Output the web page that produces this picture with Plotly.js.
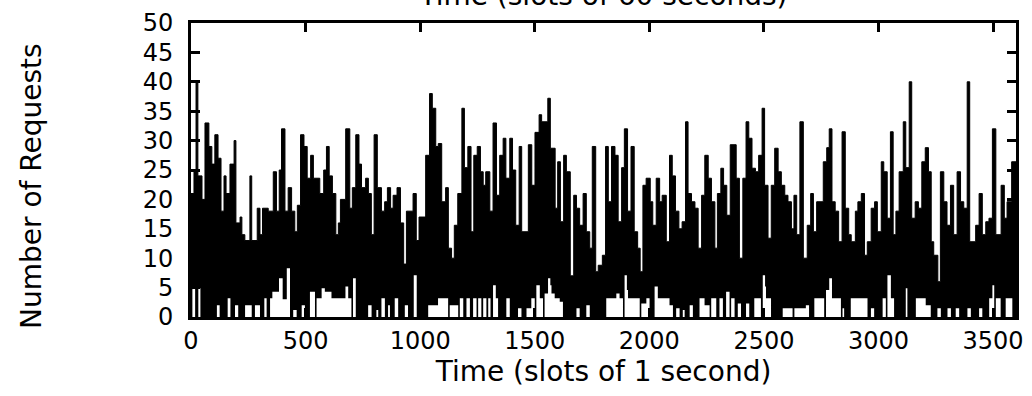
<!DOCTYPE html>
<html>
<head>
<meta charset="utf-8">
<script src="https://cdn.plot.ly/plotly-3.0.1.min.js"></script>
<style>
  html, body { margin: 0; padding: 0; background: #ffffff; }
  #chart { width: 1032px; height: 396px; }
</style>
</head>
<body>
<div id="chart"></div>
<script>
// Slot start (seconds) and peak number of requests (step envelope)
var peakT = [0,13,22,30,48,61,78,91,104,118,131,144,153,170,188,196,214,222,235,257,265,289,301,312,337,359,373,385,395,410,424,439,453,464,478,493,507,522,534,
  562,579,591,603,617,632,643,652,675,693,704,719,733,744,762,774,787,799,813,831,845,857,871,882,899,914,928,940,969,983,995,1024,1041,1053,1068,1079,1094,1111,1123,1137,1149,1164,
  1182,1193,1208,1222,1234,1249,1263,1275,1286,1304,1318,1333,1347,1362,1374,1391,1403,1417,1432,1443,1472,1487,1501,1519,1530,1557,1568,1589,1600,1612,1626,1638,1655,1670,1682,1696,1711,1725,1740,1751,1766,1777,
  1795,1809,1821,1835,1850,1864,1879,1891,1905,1920,1934,1949,1960,1972,1986,2004,2015,2030,2045,2056,2074,2088,2100,2114,2129,2143,2158,2169,2184,2199,2213,2228,2242,2257,2271,2286,2297,2312,2324,2338,2353,2379,
  2393,2408,2422,2434,2448,2463,2477,2492,2503,2518,2532,2547,2562,2576,2591,2605,2620,2631,2643,2657,2672,2689,2704,2716,2730,2759,2774,2785,2797,2811,2826,2841,2855,2870,2881,2899,2910,2925,2939,2951,2968,2983,2995,
  3012,3023,3038,3052,3064,3076,3090,3108,3119,3134,3145,3160,3174,3189,3204,3218,3230,3241,3259,3270,3285,3299,3314,3328,3343,3358,3372,3387,3398,3424,3439,3453,3468,3482,3497,3512,3535,3549,3561,3581,3600];
var peakV = [21,25,40,24,20,33,29,26,31,27,18,24,21,26,30,16,17,14,13,24,13,18.5,14,18.5,18,24.7,18,25,32,18,22,18,14.5,19,31,29,23.6,27.5,23.6,
  21,25,29,24,21,14,16,20,32,18.5,22,31,26,22,23.6,21,14,31,22,18,19.6,22,18.5,20.7,22,16,9,18,21,13,17,27.5,38,35.5,29,29.5,19.6,22,11.7,10,15.6,21,
  35.5,25.4,29,14.5,27.5,29,24.7,22.4,24.7,18,33,20.7,27.5,30.4,23.6,30.4,25,15.6,29,14.5,29.3,22.4,31.4,34.4,33.2,37.2,28.7,18.5,26.4,16.2,27.5,24.7,7,20.7,18.5,15.6,21,14.5,11.7,29,7.7,8.8,
  10.5,29,19.6,29,27.5,16.2,25.4,32,18,29,14.5,11.7,7.7,22.4,23.6,19.6,15.6,23.6,19.6,20.7,12.8,27.5,24,18,15,16.2,33.2,21,19.6,18.5,11.7,20.7,27.5,23.6,19.6,11.7,21,25.3,22.4,17.3,29.3,23.6,
  10,23.6,33.2,30.4,25.3,24.7,27.5,35.5,22.4,13.4,22.4,28.7,24.7,22.4,20.7,19.6,15,20.7,14,33.2,10,15.6,21,14.5,19.6,26.4,28.8,32,19.6,18,12.8,31.5,18.5,14,12.8,18,19.6,21,10.5,12.8,18.5,19.6,14.5,
  26.4,24.7,16.8,31.5,14,18,24.7,33.2,25.4,40,16.8,19.6,18.5,26.4,28.8,24.7,12.8,10.5,6,24.7,19.6,15.6,22.4,14,24.7,19.6,18.5,40,12.8,15.6,21,14,16.2,16.8,32,14,22.4,16.8,19.6,26.4,26.4];

// Slot start (seconds) and lowest number of requests in the slot (white gaps at the bottom)
var lowT = [0,6,18,32,41,113,125,160,172,192,206,236,265,279,301,320,330,345,355,384,400,418,432,446,461,483,497,519,541,548,570,584,613,674,686,700,707,719,730,773,788,809,817,831,846,860,868,889,904,933,947,972,985,1035,1078,1122,1129,1166,
  1173,1188,1202,1217,1231,1246,1253,1267,1275,1289,1297,1307,1318,1330,1340,1376,1391,1427,1442,1464,1485,1500,1507,1522,1536,1543,1558,1568,1573,1587,1609,1623,1682,1696,1725,1740,1812,1856,1870,1885,1892,1902,1907,1958,1965,1987,2001,2023,2037,2088,2103,2117,2132,2146,2154,2176,2190,2219,2241,2263,2270,2292,2306,2321,2335,2350,2357,2372,
  2386,2400,2422,2436,2458,2487,2495,2505,2509,2531,2582,2625,2633,2683,2697,2720,2763,2771,2785,2797,2836,2843,2850,2879,2952,2967,2981,3018,3032,3039,3054,3068,3119,3126,3163,3206,3228,3257,3272,3301,3316,3337,3352,3388,3403,3439,3453,3483,3497,3505,3512,3533,3555,3584,3600];
var lowV = [0,4.9,0,4.9,0,2,0,3.2,0,2,0,2,0,2,0,3.2,0,3.2,4.3,6.6,3,8.3,0,1.2,0,2,0,4.3,0,3.2,4.9,4.3,3.2,5.2,3.2,0,6.6,0,0,2,0,1.2,0,3.2,0,2,0,3.2,0,2,0,7.1,0,2,3.2,0,2,0,
  3.2,0,3.2,0,3.2,0,3.2,0,3.2,0,3.2,0,5.4,3.2,0,3.2,0,1.5,0,1.5,3.2,0,5.4,3.2,0,4,6.6,5.4,4,3.2,2.6,0,1.5,0,2,0,3.2,4,3.2,0,7.1,4.6,3.2,0,2.3,3.2,0,5.2,3.2,2,0,1.5,0,1.2,0,2,0,3.2,2,0,3.2,0,3.2,0,4.3,0,3.2,0,
  2.3,0,2.3,0,3.2,0,7.1,5.2,3.2,0,1.5,0,1.5,2,0,3.2,0,4.6,6.6,3.2,0,1.5,0,3.2,0,1.5,0,3.2,0,7.1,3.2,0,4.9,0,3.2,2,0,1.5,0,1.5,0,1.5,0,1.5,0,1.5,0,3.2,5.4,0,3.2,0,3.2,0,0];

// Axis ticks and texts
var xTicks = [0, 500, 1000, 1500, 2000, 2500, 3000, 3500];
var yTicks = [0, 5, 10, 15, 20, 25, 30, 35, 40, 45, 50];
var xTitle = 'Time (slots of 1 second)';
var yTitle = 'Number of Requests';
var topTitle = 'Time (slots of 60 seconds)';

var FONT = 'DejaVu Sans, Liberation Sans, sans-serif';

var traces = [
  {
    x: peakT, y: peakV, type: 'scatter', mode: 'lines',
    line: {shape: 'hv', color: '#000000', width: 1},
    fill: 'tozeroy', fillcolor: '#000000',
    hoverinfo: 'skip', showlegend: false
  },
  {
    x: lowT, y: lowV, type: 'scatter', mode: 'lines',
    line: {shape: 'hv', color: '#ffffff', width: 0},
    fill: 'tozeroy', fillcolor: '#ffffff',
    hoverinfo: 'skip', showlegend: false
  }
];

var axisCommon = {
  showline: true, linecolor: '#000000', linewidth: 3,
  mirror: 'ticks', ticks: 'inside', ticklen: 9, tickwidth: 3, tickcolor: '#000000',
  showgrid: false, zeroline: false, automargin: false,
  tickfont: {family: FONT, size: 24, color: '#000000'}
};

var layout = {
  width: 1032, height: 396,
  paper_bgcolor: '#ffffff', plot_bgcolor: '#ffffff',
  margin: {l: 191, r: 16, t: 23, b: 79},
  showlegend: false,
  title: {
    text: topTitle,
    font: {family: FONT, size: 28, color: '#000000'},
    x: 0.5, xref: 'paper', xanchor: 'center',
    y: 0.987, yref: 'container', yanchor: 'bottom'
  },
  xaxis: Object.assign({}, axisCommon, {
    range: [0, 3600], tickmode: 'array', tickvals: xTicks,
    ticktext: xTicks.map(String),
    title: {text: xTitle, font: {family: FONT, size: 28, color: '#000000'}, standoff: 2}
  }),
  yaxis: Object.assign({}, axisCommon, {
    range: [0, 50], tickmode: 'array', tickvals: yTicks,
    ticktext: yTicks.map(String), ticklabelstandoff: 10
  }),
  annotations: [{
    text: yTitle, textangle: -90, showarrow: false,
    xref: 'paper', yref: 'paper',
    x: (31 - 191) / 825, y: (317 - 186) / 294,
    xanchor: 'center', yanchor: 'middle',
    font: {family: FONT, size: 28, color: '#000000'}
  }]
};

Plotly.newPlot('chart', traces, layout, {staticPlot: true, displayModeBar: false});
</script>
</body>
</html>
